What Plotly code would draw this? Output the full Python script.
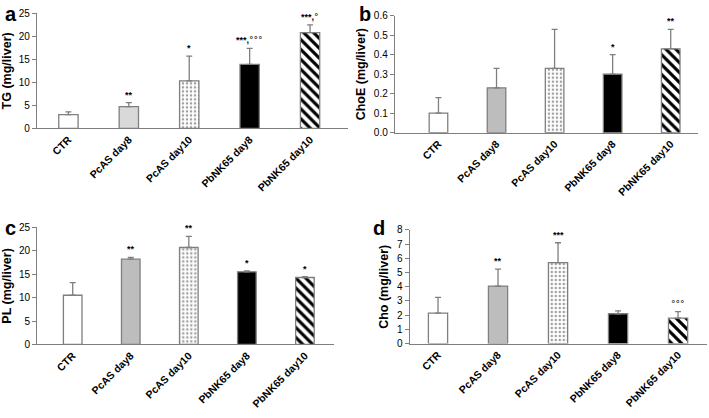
import plotly.graph_objects as go
from plotly.subplots import make_subplots

# --- Datos ---
groups = ["CTR", "PcAS day8", "PcAS day10", "PbNK65 day8", "PbNK65 day10"]

tg_mean = [3.0, 4.7, 10.3, 13.9, 20.8]
tg_err = [0.6, 0.9, 5.4, 3.5, 1.7]
tg_sig = ["", "**", "*", "***,°°°", "***,°"]

choe_mean = [0.10, 0.23, 0.33, 0.30, 0.43]
choe_err = [0.08, 0.10, 0.20, 0.10, 0.10]
choe_sig = ["", "", "", "*", "**"]

pl_mean = [10.5, 18.2, 20.7, 15.5, 14.3]
pl_err = [2.7, 0.4, 2.4, 0.2, 0.2]
pl_sig = ["", "**", "**", "*", "*"]

cho_mean = [2.15, 4.05, 5.7, 2.1, 1.8]
cho_err = [1.1, 1.2, 1.4, 0.2, 0.45]
cho_sig = ["", "**", "***", "", "°°°"]

FONT = "Arial, Liberation Sans, sans-serif"
EDGE = "#7f7f7f"

# (relleno, forma del patron, color del patron, tamano, solidez) por grupo
def bar_style(i, gray):
    return [
        ("white", "", "white", 8, 0.2),
        (gray, "", gray, 8, 0.2),
        ("white", ".", "#a0a0a0", 4, 0.3),
        ("black", "", "black", 8, 0.2),
        ("white", "\\", "black", 7, 0.45),
    ][i]


def sig_text(s):
    # los simbolos ° van en fuente normal, mas finos
    return s.replace("°", "<span style='font-family:DejaVu Sans;font-weight:normal'>°</span>")


panels = [
    # (media, error, signif, gris, titulo y, rango y, dtick, formato, dominio x, dominio y, rango x, letra, pos letra)
    (tg_mean, tg_err, tg_sig, "#d9d9d9", "TG (mg/liver)", [0, 25], 5, "",
     [0.0522, 0.491], [0.693, 0.968], [-0.52, 4.63], "a", 0.004, 0.998),
    (choe_mean, choe_err, choe_sig, "#bdbdbd", "ChoE (mg/liver)", [0, 0.6], 0.1, ".1f",
     [0.557, 0.9845], [0.6826, 0.9625], [-0.75, 4.47], "b", 0.503, 0.998),
    (pl_mean, pl_err, pl_sig, "#bdbdbd", "PL (mg/liver)", [0, 25], 5, "",
     [0.0526, 0.471], [0.176, 0.456], [-0.61, 4.5], "c", 0.004, 0.485),
    (cho_mean, cho_err, cho_sig, "#bdbdbd", "Cho (mg/liver)", [0, 8], 1, "",
     [0.578, 0.997], [0.178, 0.4498], [-0.47, 4.48], "d", 0.523, 0.485),
]

fig = make_subplots(rows=2, cols=2)
xs = list(range(len(groups)))

for k, (mean, err, sig, gray, ytitle, yr, dt, fmt, dx, dy, xr, letter, lx, ly) in enumerate(panels):
    row, col = k // 2 + 1, k % 2 + 1
    for i in xs:
        fill, shape, fg, size, solid = bar_style(i, gray)
        fig.add_trace(go.Bar(
            x=[i], y=[mean[i]], width=0.32,
            marker=dict(color=fill, line=dict(color=EDGE, width=1.3),
                        pattern=dict(shape=shape, fgcolor=fg, bgcolor=fill, size=size,
                                     solidity=solid, fillmode="replace")),
            error_y=dict(type="data", symmetric=False, array=[err[i]], arrayminus=[0],
                         color=EDGE, thickness=1.3, width=3),
            showlegend=False, hoverinfo="skip",
        ), row=row, col=col)

    sfx = "" if k == 0 else str(k + 1)
    fig.layout["xaxis" + sfx].update(
        domain=dx, range=xr, tickvals=xs, ticktext=groups, tickangle=-45, automargin=False,
        showline=True, linecolor=EDGE, linewidth=1.3, ticks="", showgrid=False, zeroline=False,
        tickfont=dict(family=FONT, size=10.5, color="black", weight="bold"),
    )
    fig.layout["yaxis" + sfx].update(
        domain=dy, range=yr, dtick=dt, tickformat=fmt, automargin=False,
        showline=True, linecolor=EDGE, linewidth=1.3, ticks="outside", ticklen=4,
        tickcolor=EDGE, showgrid=False, zeroline=False,
        tickfont=dict(family=FONT, size=10, color="black"),
        title=dict(text=ytitle, standoff=5,
                   font=dict(family=FONT, size=12.5, color="black", weight="bold")),
    )

    for i, s in enumerate(sig):
        if s:
            fig.add_annotation(x=i, y=mean[i] + err[i], text=sig_text(s), showarrow=False,
                               yanchor="bottom", yshift=1, xref="x" + sfx, yref="y" + sfx,
                               font=dict(family=FONT, size=9, color="black", weight="bold"))

    fig.add_annotation(x=lx, y=ly, xref="paper", yref="paper", text=letter,
                       showarrow=False, xanchor="left", yanchor="top",
                       font=dict(family=FONT, size=20, color="black", weight="bold"))

fig.update_layout(
    width=709, height=418,
    margin=dict(l=0, r=0, t=0, b=0),
    plot_bgcolor="white", paper_bgcolor="white",
    barmode="overlay",
)

# quitar el margen por defecto del body para que la figura llene la ventana
fig.write_html("out.html", config={"displayModeBar": False},
               post_script="document.body.style.margin='0';")
